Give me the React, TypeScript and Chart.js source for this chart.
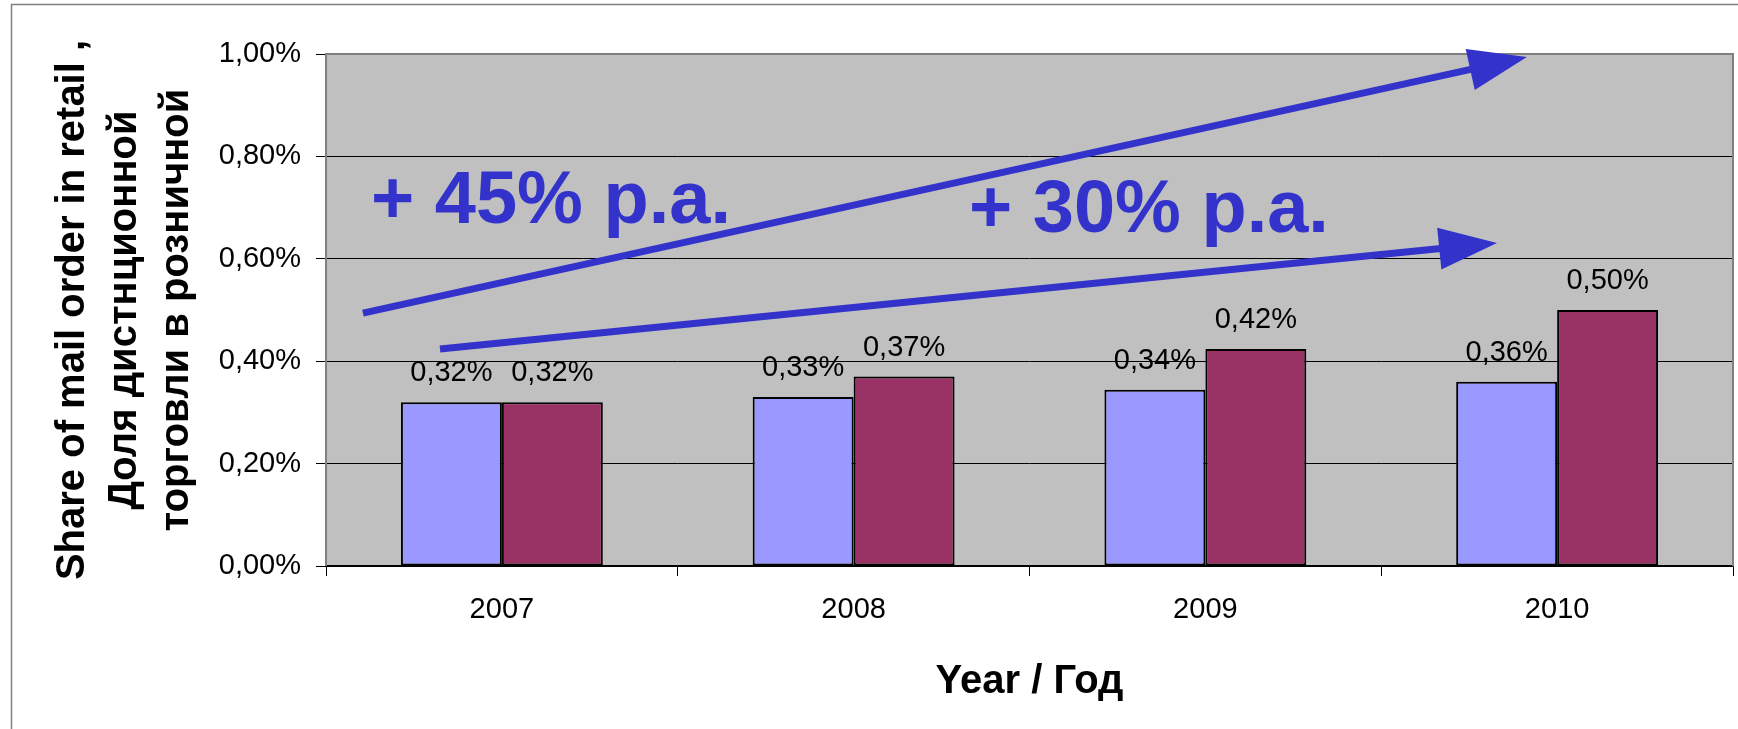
import React, { useEffect, useRef } from 'react';
import { Chart, registerables } from 'chart.js';

Chart.register(...registerables);

// ---- data ----
const years = ['2007', '2008', '2009', '2010'];
const mailOrderShareA = [0.32, 0.33, 0.344, 0.36];
const mailOrderShareB = [0.32, 0.37, 0.424, 0.5];
const yTickValues = [0, 0.2, 0.4, 0.6, 0.8, 1.0];
const yTitleLines = ['Share of mail order in retail ,', 'Доля дистнционной', 'торговли в розничной'];
const xTitleText = 'Year / Год';

// ---- annotations (category-position, value) ----
const growthTexts = ['+ 45% p.a.', '+ 30% p.a.'];
const growthTextAnchors = [
  [-0.372, 0.67],
  [1.328, 0.652],
];
const arrowStarts = [
  [-0.395, 0.494],
  [-0.176, 0.424],
];
const arrowEnds = [
  [2.914, 0.994],
  [2.829, 0.631],
];

const FONT = '"Liberation Sans", Arial, Helvetica, sans-serif';
const ANNOT_COLOR = '#3333CC';

const fmtPct = (v: number) => v.toFixed(2).replace('.', ',') + '%';

const decorPlugin = {
  id: 'decor',
  beforeDraw(chart: any) {
    const { ctx, chartArea: a } = chart;
    ctx.save();
    ctx.fillStyle = '#C0C0C0';
    ctx.fillRect(a.left, a.top, a.right - a.left, a.bottom - a.top);
    ctx.strokeStyle = '#808080';
    ctx.lineWidth = 1.5;
    ctx.strokeRect(11.5, 4.5, chart.width + 50, chart.height + 50);
    ctx.restore();
  },
  beforeDatasetsDraw(chart: any) {
    const { ctx, chartArea: a } = chart;
    ctx.save();
    ctx.strokeStyle = '#808080';
    ctx.lineWidth = 2;
    ctx.beginPath();
    ctx.moveTo(a.left, a.bottom);
    ctx.lineTo(a.left, a.top);
    ctx.lineTo(a.right, a.top);
    ctx.lineTo(a.right, a.bottom);
    ctx.stroke();
    ctx.restore();
  },
  afterDatasetsDraw(chart: any) {
    const { ctx } = chart;
    const xs = chart.scales.x;
    const ys = chart.scales.y;
    ctx.save();
    // value labels
    ctx.font = `29px ${FONT}`;
    ctx.fillStyle = '#000';
    ctx.textAlign = 'center';
    ctx.textBaseline = 'alphabetic';
    chart.data.datasets.forEach((ds: any, di: number) => {
      const meta = chart.getDatasetMeta(di);
      meta.data.forEach((bar: any, i: number) => {
        ctx.fillText(fmtPct(ds.data[i]), bar.x, bar.y - 21);
      });
    });
    // arrows
    ctx.strokeStyle = ANNOT_COLOR;
    ctx.fillStyle = ANNOT_COLOR;
    arrowStarts.forEach((s, k) => {
      const e = arrowEnds[k];
      const x0 = xs.getPixelForValue(s[0]);
      const y0 = ys.getPixelForValue(s[1]);
      const x1 = xs.getPixelForValue(e[0]);
      const y1 = ys.getPixelForValue(e[1]);
      const dx = x1 - x0;
      const dy = y1 - y0;
      const len = Math.hypot(dx, dy);
      const ux = dx / len;
      const uy = dy / len;
      const headLen = 58;
      const headHalf = 21;
      const bx = x1 - ux * headLen;
      const by = y1 - uy * headLen;
      ctx.lineWidth = 7;
      ctx.lineCap = 'butt';
      ctx.beginPath();
      ctx.moveTo(x0, y0);
      ctx.lineTo(bx + ux * 4, by + uy * 4);
      ctx.stroke();
      ctx.beginPath();
      ctx.moveTo(x1, y1);
      ctx.lineTo(bx - uy * headHalf, by + ux * headHalf);
      ctx.lineTo(bx + uy * headHalf, by - ux * headHalf);
      ctx.closePath();
      ctx.fill();
    });
    // growth texts
    ctx.font = `bold 74px ${FONT}`;
    ctx.textAlign = 'left';
    ctx.textBaseline = 'alphabetic';
    growthTexts.forEach((t, k) => {
      const p = growthTextAnchors[k];
      ctx.fillText(t, xs.getPixelForValue(p[0]), ys.getPixelForValue(p[1]));
    });
    ctx.restore();
  },
};

export default function App() {
  const ref = useRef<HTMLCanvasElement>(null);
  useEffect(() => {
    if (!ref.current) return;
    Chart.defaults.font.family = FONT;
    const chart = new Chart(ref.current, {
      type: 'bar',
      data: {
        labels: years,
        datasets: [
          {
            label: 'A',
            data: mailOrderShareA,
            backgroundColor: '#9999FF',
            borderColor: '#000000',
            borderWidth: 2,
            borderSkipped: false,
          },
          {
            label: 'B',
            data: mailOrderShareB,
            backgroundColor: '#993366',
            borderColor: '#000000',
            borderWidth: 2,
            borderSkipped: false,
          },
        ],
      },
      options: {
        animation: false,
        responsive: true,
        maintainAspectRatio: false,
        layout: { padding: { left: 0, top: 54, right: 5, bottom: 0 } },
        datasets: { bar: { categoryPercentage: 0.574, barPercentage: 1.0 } },
        plugins: {
          legend: { display: false },
          tooltip: { enabled: false },
        },
        scales: {
          x: {
            type: 'category',
            offset: true,
            grid: {
              display: true,
              drawOnChartArea: false,
              drawTicks: true,
              tickLength: 10,
              color: '#000',
              lineWidth: 1,
              offset: true,
            },
            border: { display: true, color: '#000', width: 1.5 },
            ticks: {
              color: '#000',
              font: { size: 29, family: FONT },
              padding: 17,
              maxRotation: 0,
              autoSkip: false,
            },
            title: {
              display: true,
              text: xTitleText,
              color: '#000',
              font: { size: 40, weight: 'bold', family: FONT, lineHeight: 1.2 },
              padding: { top: 0, bottom: 23 },
            },
            afterFit: (scale: any) => {
              scale.height = 163;
            },
          },
          y: {
            min: 0,
            max: 1,
            afterBuildTicks: (scale: any) => {
              scale.ticks = yTickValues.map((v) => ({ value: v }));
            },
            grid: {
              color: '#000',
              lineWidth: 1,
              drawTicks: true,
              tickLength: 10,
            },
            border: { display: false },
            ticks: {
              color: '#000',
              font: { size: 29, family: FONT },
              padding: 15,
              callback: (v: any) => fmtPct(Number(v)),
            },
            title: {
              display: true,
              text: yTitleLines,
              color: '#000',
              font: { size: 40, weight: 'bold', family: FONT, lineHeight: 1.3 },
              padding: { top: 47, bottom: 0 },
            },
            afterFit: (scale: any) => {
              scale.width = 326;
            },
          },
        },
      },
      plugins: [decorPlugin],
    } as any);
    return () => chart.destroy();
  }, []);
  return (
    <div
      style={{
        position: 'fixed',
        left: 0,
        top: 0,
        width: 1738,
        height: 729,
        background: '#ffffff',
      }}
    >
      <canvas ref={ref} />
    </div>
  );
}
